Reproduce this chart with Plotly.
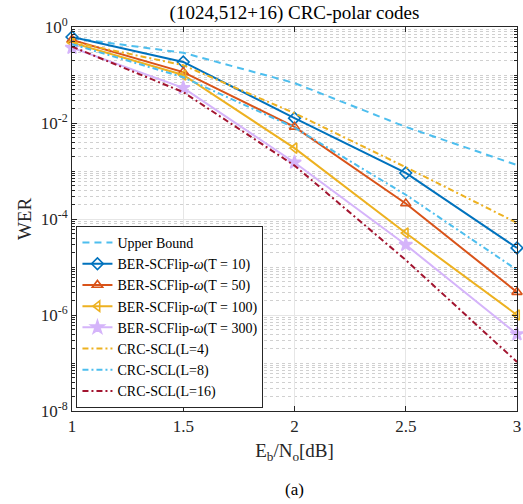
import plotly.graph_objects as go

snr = [1, 1.5, 2, 2.5, 3]
upper_bound = [0.59, 0.29, 0.068, 0.0083, 0.00133]
flip_t10 = [0.62, 0.187, 0.0126, 9.1e-4, 2.5e-5]
flip_t50 = [0.54, 0.115, 0.0083, 2.1e-4, 3.0e-6]
flip_t100 = [0.47, 0.10, 0.0030, 5.1e-5, 1.0e-6]
flip_t300 = [0.37, 0.054, 0.0015, 2.9e-5, 4.0e-7]
scl_l4 = [0.49, 0.16, 0.016, 1.2e-3, 8.3e-5]
scl_l8 = [0.44, 0.09, 0.0080, 3.2e-4, 8.7e-6]
scl_l16 = [0.39, 0.044, 0.0013, 1.4e-5, 1.05e-7]

x_ticks = [1, 1.5, 2, 2.5, 3]
x_ticktext = ["1", "1.5", "2", "2.5", "3"]
y_ticks = [1e0, 1e-2, 1e-4, 1e-6, 1e-8]
y_ticktext = ["10<sup>0</sup>", "10<sup>-2</sup>", "10<sup>-4</sup>", "10<sup>-6</sup>", "10<sup>-8</sup>"]

FONT = "Liberation Serif"
fig = go.Figure()

def add(y, name, color, dash, symbol=None, size=9):
    mode = "lines+markers" if symbol else "lines"
    fig.add_trace(go.Scatter(
        x=snr, y=y, name=name, mode=mode, cliponaxis=False,
        line=dict(color=color, width=2, dash=dash),
        marker=dict(symbol=symbol, size=size, color=color,
                    line=dict(color=color, width=1.6)) if symbol else None,
    ))

DASH = "7px,5px"
DASHDOT = "6px,3px,2px,3px"
add(upper_bound, "Upper Bound", "#4DBEEE", DASH)
add(flip_t10, "BER-SCFlip-<i>ω</i>(T = 10)", "#0072BD", "solid", "diamond-open")
add(flip_t50, "BER-SCFlip-<i>ω</i>(T = 50)", "#D95319", "solid", "triangle-up-open")
add(flip_t100, "BER-SCFlip-<i>ω</i>(T = 100)", "#EDB120", "solid", "triangle-left-open")
add(flip_t300, "BER-SCFlip-<i>ω</i>(T = 300)", "#D5B4FA", "solid", "star", 10)
add(scl_l4, "CRC-SCL(L=4)", "#EDB120", DASHDOT)
add(scl_l8, "CRC-SCL(L=8)", "#4DBEEE", DASHDOT)
add(scl_l16, "CRC-SCL(L=16)", "#A2142F", DASHDOT)

minor_vals = [k * 10 ** n for n in range(-8, 0) for k in range(2, 10)] + [10 ** n for n in range(-7, 0, 2)]

fig.update_layout(
    width=523, height=504,
    margin=dict(l=72, r=6, t=27, b=93),
    paper_bgcolor="white", plot_bgcolor="white",
    font=dict(family=FONT, size=17, color="#262626"),
    title=dict(text="(1024,512+16) CRC-polar codes", x=0.5, xanchor="center",
               xref="paper", y=0.975, yanchor="middle", font=dict(size=19, color="black")),
    showlegend=True,
    legend=dict(x=0.01, y=0.008, xanchor="left", yanchor="bottom",
                bgcolor="white", bordercolor="#262626", borderwidth=1,
                font=dict(size=14, color="black"), tracegroupgap=0, itemwidth=30),
    xaxis=dict(range=[1, 3], tickvals=x_ticks, ticktext=x_ticktext, automargin=False,
               showline=True, linecolor="#262626", linewidth=1, mirror="allticks",
               ticks="inside", ticklen=5, tickcolor="#262626",
               showgrid=True, gridcolor="#E6E6E6", gridwidth=1, zeroline=False,
               title=dict(text="E<sub>b</sub>/N<sub>o</sub>[dB]", standoff=8,
                          font=dict(size=19, color="#262626"))),
    yaxis=dict(type="log", range=[-8, 0], tickvals=y_ticks, ticktext=y_ticktext, automargin=False,
               showline=True, linecolor="#262626", linewidth=1, mirror="allticks",
               ticks="inside", ticklen=5, tickcolor="#262626",
               showgrid=True, gridcolor="#E6E6E6", gridwidth=1, zeroline=False,
               minor=dict(tickvals=minor_vals, ticks="inside", ticklen=3,
                          tickcolor="#262626", showgrid=True, gridcolor="#D0D0D0",
                          griddash="dot", gridwidth=1),
               title=dict(text="WER", standoff=4, font=dict(size=19, color="#262626"))),
    annotations=[dict(text="(a)", xref="paper", yref="paper", x=0.5, y=-0.205,
                      xanchor="center", yanchor="middle", showarrow=False,
                      font=dict(size=17, color="black"))],
)

fig.write_html("out.html", config={"displayModeBar": False},
               post_script="document.body.style.margin='0';document.body.style.overflow='hidden';")
